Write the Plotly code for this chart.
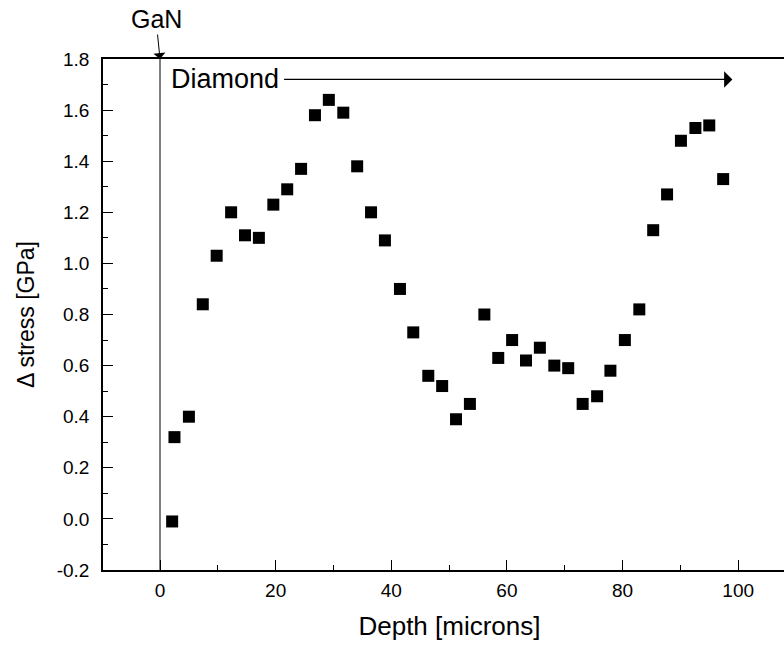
import plotly.graph_objects as go

depth = [2.1, 2.5, 5.0, 7.4, 9.8, 12.3, 14.7, 17.1, 19.6, 22.0, 24.4, 26.8,
         29.2, 31.7, 34.1, 36.5, 38.9, 41.5, 43.8, 46.4, 48.8, 51.2, 53.6,
         56.1, 58.5, 60.9, 63.3, 65.7, 68.2, 70.6, 73.1, 75.6, 77.9, 80.4,
         82.9, 85.3, 87.7, 90.1, 92.6, 95.0, 97.4]
stress = [-0.01, 0.32, 0.40, 0.84, 1.03, 1.20, 1.11, 1.10, 1.23, 1.29, 1.37,
          1.58, 1.64, 1.59, 1.38, 1.20, 1.09, 0.90, 0.73, 0.56, 0.52, 0.39,
          0.45, 0.80, 0.63, 0.70, 0.62, 0.67, 0.60, 0.59, 0.45, 0.48, 0.58,
          0.70, 0.82, 1.13, 1.27, 1.48, 1.53, 1.54, 1.33]

x_ticks = [0, 20, 40, 60, 80, 100]
x_ticklabels = ["0", "20", "40", "60", "80", "100"]
y_ticks = [-0.2, 0.0, 0.2, 0.4, 0.6, 0.8, 1.0, 1.2, 1.4, 1.6, 1.8]
y_ticklabels = ["-0.2", "0.0", "0.2", "0.4", "0.6", "0.8", "1.0", "1.2", "1.4", "1.6", "1.8"]

FONT = "Arial, Liberation Sans, sans-serif"

fig = go.Figure()
fig.add_trace(go.Scatter(
    x=depth, y=stress, mode="markers",
    marker=dict(symbol="square", size=12, color="black"),
    showlegend=False, cliponaxis=False,
))

# vertical GaN/Diamond interface line
fig.add_shape(type="line", xref="x", yref="paper", x0=0, x1=0, y0=0, y1=1,
              line=dict(color="black", width=1))

# GaN label with arrow
fig.add_annotation(x=0, y=1, xref="x", yref="paper", text="GaN",
                   showarrow=True, ax=-4, ay=-40, arrowhead=1, arrowsize=2,
                   arrowwidth=1, arrowcolor="black",
                   font=dict(family=FONT, size=25, color="black"))

# Diamond label and arrow
fig.add_annotation(x=1.6, y=1.72, xref="x", yref="y", text="Diamond",
                   showarrow=False, xanchor="left",
                   font=dict(family=FONT, size=27, color="black"))
fig.add_annotation(x=99.0, y=1.72, xref="x", yref="y", ax=21.2, ay=1.72,
                   axref="x", ayref="y", text="", showarrow=True,
                   arrowhead=1, arrowsize=2.3, arrowwidth=1.2, arrowcolor="black")

fig.update_layout(
    width=796, height=648,
    margin=dict(l=103, r=0, t=59, b=78),
    paper_bgcolor="white", plot_bgcolor="white",
    font=dict(family=FONT, size=19, color="black"),
    xaxis=dict(
        range=[-9.86, 110.0], showgrid=False, zeroline=False,
        showline=True, linecolor="black", linewidth=1.5, mirror=True,
        ticks="inside", ticklen=10, tickwidth=1.2, tickcolor="black",
        tickvals=x_ticks, ticktext=x_ticklabels, ticklabelstandoff=2,
        minor=dict(ticks="inside", ticklen=5, tickwidth=1.2, dtick=10,
                   tickcolor="black", showgrid=False),
        title=dict(text="Depth [microns]", font=dict(size=26), standoff=17),
        automargin=False,
    ),
    yaxis=dict(
        range=[-0.2, 1.8], showgrid=False, zeroline=False,
        showline=True, linecolor="black", linewidth=1.5, mirror=False,
        ticks="inside", ticklen=10, tickwidth=1.2, tickcolor="black",
        tickvals=y_ticks, ticktext=y_ticklabels, ticklabelstandoff=8,
        minor=dict(ticks="inside", ticklen=5, tickwidth=1.2, dtick=0.1,
                   tickcolor="black", showgrid=False),
        title=dict(text="Δ stress [GPa]", font=dict(size=23), standoff=16),
        automargin=False,
    ),
)

fig.write_html(
    "out.html",
    config={"displayModeBar": False},
    default_width="796px", default_height="648px",
    post_script="document.body.style.margin='0';document.body.style.overflow='hidden';"
                "document.documentElement.style.overflow='hidden';",
)
